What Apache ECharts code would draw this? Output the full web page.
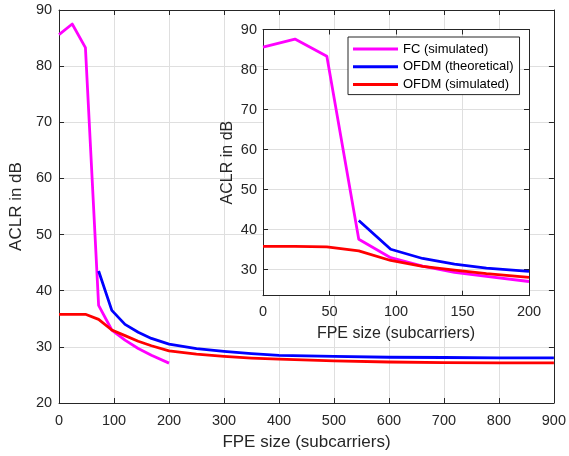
<!DOCTYPE html>
<html>
<head>
<meta charset="utf-8">
<script src="https://cdn.jsdelivr.net/npm/echarts@6/dist/echarts.min.js"></script>
<style>
  html, body { margin: 0; padding: 0; background: #fff; }
  #chart { width: 569px; height: 456px; }
</style>
</head>
<body>
<div id="chart"></div>
<script>
// ACLR versus FPE size: full range (main axes) and a zoom on 0..200 (inset axes)
const fpeMain = [0, 24, 48, 72, 96, 120, 144, 168, 200, 250, 300, 350, 400, 500, 600, 700, 800, 900];
const fcMain = [85.6, 87.5, 83.3, 37.4, 33.0, 31.2, 29.7, 28.5, 27.1];
const theoryMain = [null, null, null, 43.5, 36.5, 34.0, 32.6, 31.5, 30.5, 29.7, 29.2, 28.8, 28.5, 28.3, 28.15, 28.1, 28.05, 28.05];
const simMain = [35.8, 35.8, 35.8, 34.9, 33.0, 32.0, 31.0, 30.2, 29.3, 28.7, 28.3, 28.0, 27.8, 27.5, 27.3, 27.2, 27.15, 27.15];

const fpeInset = [0, 24, 48, 72, 96, 120, 144, 168, 200];
const fcInset = [85.6, 87.6, 83.3, 37.6, 33.0, 30.9, 29.3, 28.3, 27.05];
const theoryInset = [null, null, null, 42.3, 35.1, 32.8, 31.4, 30.4, 29.6];
const simInset = [35.8, 35.8, 35.7, 34.7, 32.3, 30.8, 29.9, 29.0, 28.1];

const insetYTicks = [30, 40, 50, 60, 70, 80, 90];
const seriesNames = ['FC (simulated)', 'OFDM (theoretical)', 'OFDM (simulated)'];
const seriesColors = ['#ff00ff', '#0000ff', '#ff0000'];

const FONT = 'Liberation Sans, Arial, Helvetica, sans-serif';
const INK = '#262626';
const GRID = '#dfdfdf';

function pairs(xs, ys) {
  const out = [];
  ys.forEach((y, i) => { if (y !== null && y !== undefined) out.push([xs[i], y]); });
  return out;
}

function axisBase(extra) {
  return Object.assign({
    type: 'value',
    axisLine: { show: true, onZero: false, lineStyle: { color: INK, width: 1 } },
    axisTick: { show: true, inside: true, length: 5, lineStyle: { color: INK, width: 1 } },
    axisLabel: { color: INK, fontFamily: FONT, fontSize: 14.5 },
    splitLine: { show: false },
    nameTextStyle: { color: INK, fontFamily: FONT, fontSize: 17 }
  }, extra);
}

function lineSeries(name, color, data, xi, yi, z) {
  return {
    type: 'line', name, data, xAxisIndex: xi, yAxisIndex: yi,
    showSymbol: false, symbol: 'none', z,
    lineStyle: { color, width: 2.8, join: 'round', cap: 'butt' },
    itemStyle: { color },
    animation: false
  };
}

const chart = echarts.init(document.getElementById('chart'), null, { renderer: 'canvas' });

chart.setOption({
  animation: false,
  backgroundColor: '#fff',
  grid: [
    { left: 55, top: 10, right: 14, bottom: 52, show: false, z: 0 },
    { left: 263, top: 29.5, right: 40, bottom: 160.3, show: true, backgroundColor: '#fff', borderWidth: 0, z: 1 }
  ],
  xAxis: [
    axisBase({
      gridIndex: 0, position: 'bottom', min: 0, max: 900, interval: 100,
      axisLabel: { color: INK, fontFamily: FONT, fontSize: 14.5, margin: 10 },
      splitLine: { show: true, lineStyle: { color: GRID, width: 1 } },
      name: 'FPE size (subcarriers)', nameLocation: 'middle', nameGap: 31
    }),
    axisBase({
      gridIndex: 0, position: 'top', min: 0, max: 900, interval: 100,
      axisLabel: { show: false }
    }),
    axisBase({
      gridIndex: 1, position: 'bottom', min: 0, max: 200, interval: 50, z: 2,
      axisLabel: { color: INK, fontFamily: FONT, fontSize: 14.5, margin: 9 },
      splitLine: { show: true, lineStyle: { color: GRID, width: 1 } },
      name: 'FPE size (subcarriers)', nameLocation: 'middle', nameGap: 29.5,
      nameTextStyle: { color: INK, fontFamily: FONT, fontSize: 16 }
    }),
    axisBase({
      gridIndex: 1, position: 'top', min: 0, max: 200, interval: 50, z: 2,
      axisLabel: { show: false }
    })
  ],
  yAxis: [
    axisBase({
      gridIndex: 0, position: 'left', min: 20, max: 90, interval: 10,
      axisLabel: { color: INK, fontFamily: FONT, fontSize: 14.5, margin: 7 },
      splitLine: { show: true, lineStyle: { color: GRID, width: 1 } },
      name: 'ACLR in dB', nameLocation: 'middle', nameGap: 30
    }),
    axisBase({
      gridIndex: 0, position: 'right', min: 20, max: 90, interval: 10,
      axisLabel: { show: false }
    }),
    axisBase({
      gridIndex: 1, position: 'left', min: 23.5, max: 90, z: 2,
      axisTick: { show: true, inside: true, length: 5, lineStyle: { color: INK, width: 1 }, customValues: insetYTicks },
      axisLabel: { color: INK, fontFamily: FONT, fontSize: 14.5, margin: 6, customValues: insetYTicks },
      splitLine: { show: true, lineStyle: { color: GRID, width: 1 } },
      name: 'ACLR in dB', nameLocation: 'middle', nameGap: 27,
      nameTextStyle: { color: INK, fontFamily: FONT, fontSize: 16 }
    }),
    axisBase({
      gridIndex: 1, position: 'right', min: 23.5, max: 90, z: 2,
      axisTick: { show: true, inside: true, length: 5, lineStyle: { color: INK, width: 1 }, customValues: insetYTicks },
      axisLabel: { show: false, customValues: insetYTicks }
    })
  ],
  legend: {
    data: seriesNames,
    orient: 'vertical',
    left: 348, top: 37,
    padding: [5, 6, 3, 5],
    itemWidth: 45, itemHeight: 3,
    itemGap: 3.8,
    icon: 'rect',
    backgroundColor: '#fff',
    borderColor: INK, borderWidth: 1,
    textStyle: { color: '#000', fontFamily: FONT, fontSize: 13, lineHeight: 14 },
    selectedMode: false,
    z: 10
  },
  series: [
    lineSeries(seriesNames[0], seriesColors[0], pairs(fpeMain, fcMain), 0, 0, 2),
    lineSeries(seriesNames[1], seriesColors[1], pairs(fpeMain, theoryMain), 0, 0, 2),
    lineSeries(seriesNames[2], seriesColors[2], pairs(fpeMain, simMain), 0, 0, 2),
    lineSeries(seriesNames[0], seriesColors[0], pairs(fpeInset, fcInset), 2, 2, 3),
    lineSeries(seriesNames[1], seriesColors[1], pairs(fpeInset, theoryInset), 2, 2, 3),
    lineSeries(seriesNames[2], seriesColors[2], pairs(fpeInset, simInset), 2, 2, 3)
  ]
});
</script>
</body>
</html>
